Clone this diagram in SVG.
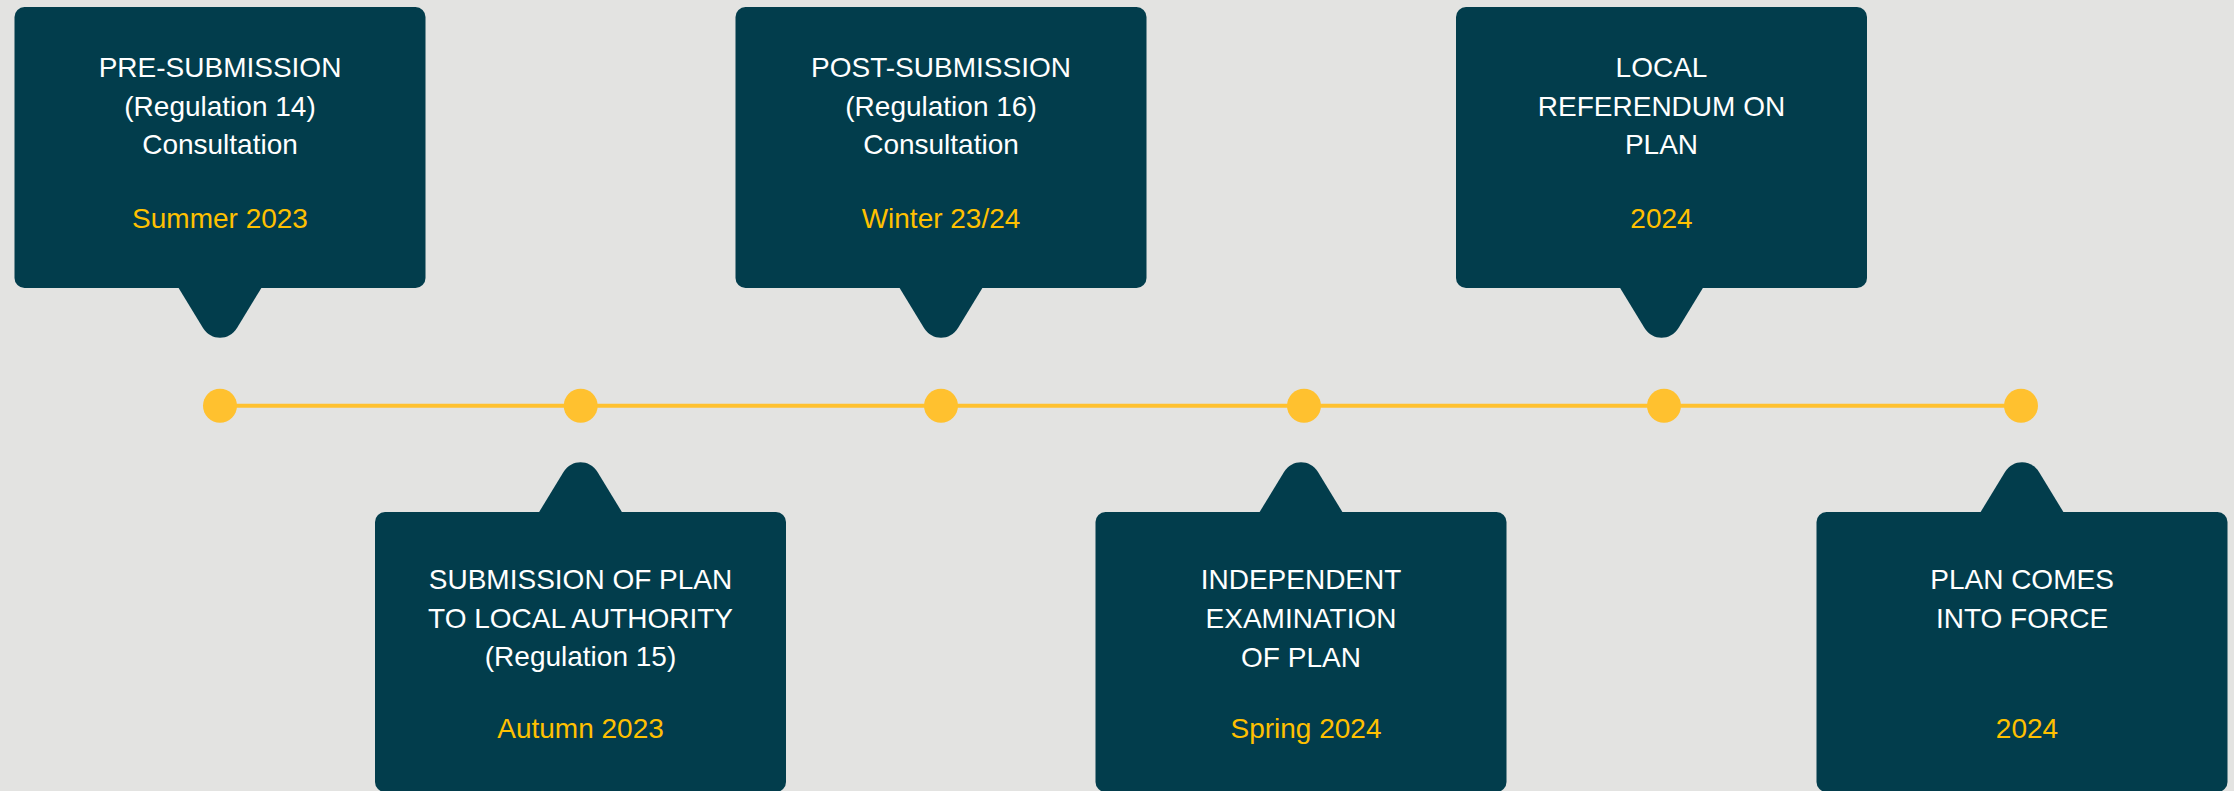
<svg xmlns="http://www.w3.org/2000/svg" width="2234" height="791" viewBox="0 0 2234 791">
  <style>
    .box { fill: #023D4C; }
    .t { font-family: "Liberation Sans", Arial, sans-serif; font-size: 28px; text-anchor: middle; fill: #FFFFFF; }
    .d { font-family: "Liberation Sans", Arial, sans-serif; font-size: 28px; text-anchor: middle; fill: #FFC000; }
    .dot { fill: #FFC12F; }
    .axis { stroke: #FFC12F; stroke-width: 4; fill: none; }
  </style>

  <rect x="0" y="0" width="2234" height="791" fill="#E3E3E1"/>

  <!-- timeline axis -->
  <g id="connectors">
    <line class="axis" x1="220" y1="405.7" x2="2021" y2="405.7"/>
  </g>

  <!-- milestone dots on the axis -->
  <g id="milestones">
    <circle class="dot" cx="220" cy="405.7" r="17"/>
    <circle class="dot" cx="580.7" cy="405.7" r="17"/>
    <circle class="dot" cx="941" cy="405.7" r="17"/>
    <circle class="dot" cx="1304" cy="405.7" r="17"/>
    <circle class="dot" cx="1664" cy="405.7" r="17"/>
    <circle class="dot" cx="2021" cy="405.7" r="17"/>
  </g>

  <!-- callouts above the axis: tail points down -->
  <g id="pre-submission" transform="translate(220,0)">
    <rect class="box" x="-205.5" y="7" width="411" height="281" rx="10"/>
    <path class="box" d="M-42,287 L-17,328 C-9,341 9,341 17,328 L42,287 Z"/>
    <text class="t" x="0" y="77">PRE-SUBMISSION</text>
    <text class="t" x="0" y="116">(Regulation 14)</text>
    <text class="t" x="0" y="154">Consultation</text>
    <text class="d" x="0" y="228">Summer 2023</text>
  </g>

  <g id="post-submission" transform="translate(941,0)">
    <rect class="box" x="-205.5" y="7" width="411" height="281" rx="10"/>
    <path class="box" d="M-42,287 L-17,328 C-9,341 9,341 17,328 L42,287 Z"/>
    <text class="t" x="0" y="77">POST-SUBMISSION</text>
    <text class="t" x="0" y="116">(Regulation 16)</text>
    <text class="t" x="0" y="154">Consultation</text>
    <text class="d" x="0" y="228">Winter 23/24</text>
  </g>

  <g id="referendum" transform="translate(1661.5,0)">
    <rect class="box" x="-205.5" y="7" width="411" height="281" rx="10"/>
    <path class="box" d="M-42,287 L-17,328 C-9,341 9,341 17,328 L42,287 Z"/>
    <text class="t" x="0" y="77">LOCAL</text>
    <text class="t" x="0" y="116">REFERENDUM ON</text>
    <text class="t" x="0" y="154">PLAN</text>
    <text class="d" x="0" y="228">2024</text>
  </g>

  <!-- callouts below the axis: tail points up -->
  <g id="submission" transform="translate(580.5,0)">
    <rect class="box" x="-205.5" y="512" width="411" height="280" rx="10"/>
    <path class="box" d="M-42,513 L-17,472 C-9,459 9,459 17,472 L42,513 Z"/>
    <text class="t" x="0" y="589">SUBMISSION OF PLAN</text>
    <text class="t" x="0" y="628">TO LOCAL AUTHORITY</text>
    <text class="t" x="0" y="666">(Regulation 15)</text>
    <text class="d" x="0" y="738">Autumn 2023</text>
  </g>

  <g id="examination" transform="translate(1301,0)">
    <rect class="box" x="-205.5" y="512" width="411" height="280" rx="10"/>
    <path class="box" d="M-42,513 L-17,472 C-9,459 9,459 17,472 L42,513 Z"/>
    <text class="t" x="0" y="589">INDEPENDENT</text>
    <text class="t" x="0" y="628">EXAMINATION</text>
    <text class="t" x="0" y="667">OF PLAN</text>
    <text class="d" x="5" y="738">Spring 2024</text>
  </g>

  <g id="in-force" transform="translate(2022,0)">
    <rect class="box" x="-205.5" y="512" width="411" height="280" rx="10"/>
    <path class="box" d="M-42,513 L-17,472 C-9,459 9,459 17,472 L42,513 Z"/>
    <text class="t" x="0" y="589">PLAN COMES</text>
    <text class="t" x="0" y="628">INTO FORCE</text>
    <text class="d" x="5" y="738">2024</text>
  </g>
</svg>
